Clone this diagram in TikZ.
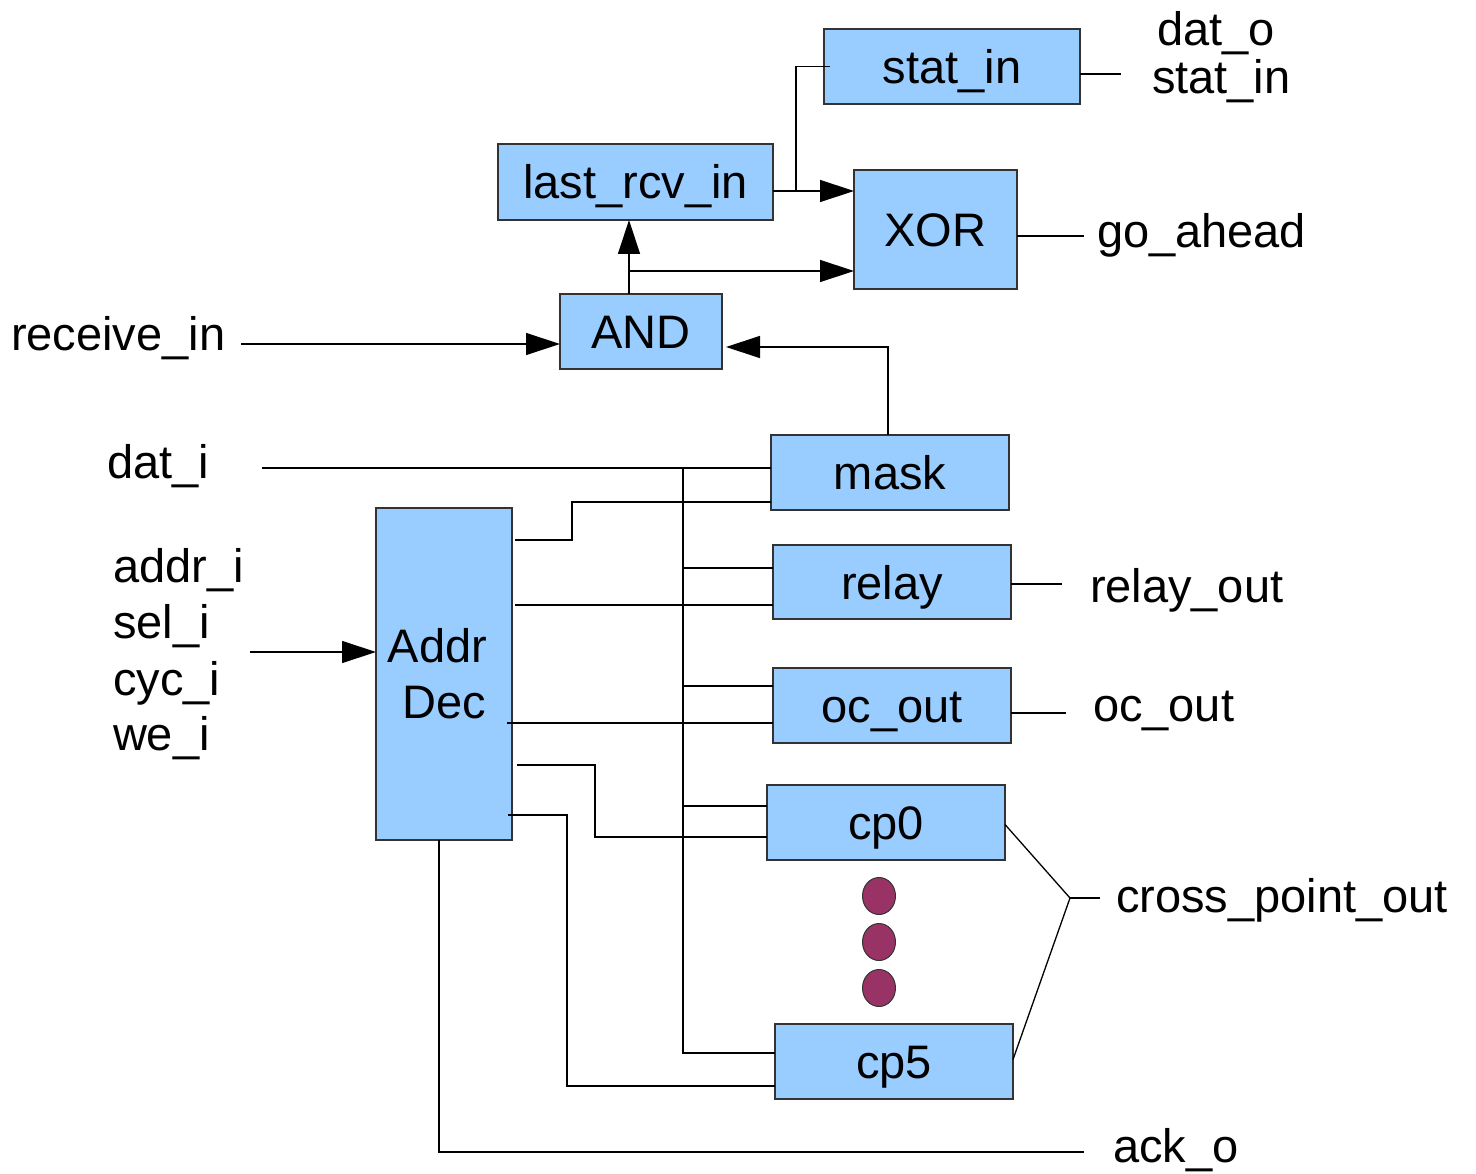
\documentclass[tikz,border=0pt]{standalone}
\usepackage{fontspec}
\setmainfont{Liberation Sans}
\usetikzlibrary{arrows.meta}
\definecolor{boxblue}{HTML}{99CCFF}
\definecolor{boxline}{HTML}{333333}
\definecolor{dotfill}{HTML}{993366}

\begin{document}
\begin{tikzpicture}[x=1pt,y=-1pt,
  every node/.style={font=\fontsize{47}{56}\selectfont, inner sep=0pt, outer sep=0pt},
  blk/.style={draw=boxline, line width=1.5pt, fill=boxblue, rectangle,
              text height=34pt, text depth=0pt},
  wire/.style={draw=black, line width=1.3pt},
  arr/.style={wire, -{Triangle[length=34pt,width=22pt]}},
  lbl/.style={anchor=base west},
  dotmark/.style={draw=black!80, line width=1pt, fill=dotfill}]

\useasboundingbox (0,0) rectangle (1476,1174);

% functional blocks
\node[blk, minimum width=256pt, minimum height=75pt] (stat)  at (952,66.5)   {stat\_in};
\node[blk, minimum width=275pt, minimum height=76pt] (last)  at (635.5,182)  {last\_rcv\_in};
\node[blk, minimum width=163pt, minimum height=119pt] (xor)  at (935.5,229.5) {XOR};
\node[blk, minimum width=162pt, minimum height=75pt] (and)   at (641,331.5)  {AND};
\node[blk, minimum width=238pt, minimum height=75pt] (mask)  at (890,472.5)  {mask};
\node[blk, minimum width=238pt, minimum height=74pt] (relay) at (892,582)    {relay};
\node[blk, minimum width=238pt, minimum height=75pt] (oc)    at (892,705.5)  {oc\_out};
\node[blk, minimum width=238pt, minimum height=75pt] (cp0)   at (886,822.5)  {cp0};
\node[blk, minimum width=238pt, minimum height=75pt] (cp5)   at (894,1061.5) {cp5};
\node[blk, minimum width=136pt, minimum height=332pt] (addr) at (444,674)    {};
\node[anchor=base east] (addrA) at (487,662) {Addr};
\node[anchor=base east] (addrD) at (486,718) {Dec};

% port labels
\node[lbl] (recv)  at (11,351)   {receive\_in};
\node[lbl] (dati)  at (107,478)  {dat\_i};
\node[lbl] (addri) at (113,582)  {addr\_i};
\node[lbl] (seli)  at (113,638)  {sel\_i};
\node[lbl] (cyci)  at (113,695)  {cyc\_i};
\node[lbl] (wei)   at (113,750)  {we\_i};
\node[lbl] (dato)  at (1157,46)  {dat\_o};
\node[lbl] (stato) at (1152,94)  {stat\_in};
\node[lbl] (goa)   at (1097,248) {go\_ahead};
\node[lbl] (relo)  at (1090,602) {relay\_out};
\node[lbl] (oco)   at (1093,721) {oc\_out};
\node[lbl] (cpo)   at (1116,912) {cross\_point\_out};
\node[lbl] (acko)  at (1113,1162) {ack\_o};

% free ends and junctions of the wires
\coordinate (statj)  at (796,191);
\coordinate (andup)  at (629,271);
\coordinate (recvs)  at (241,344);
\coordinate (datis)  at (262,468);
\coordinate (bus)    at (683,468);
\coordinate (adis)   at (250,652);
\coordinate (cpj)    at (1070,898);
\coordinate (cpe)    at (1100,898);
\coordinate (state)  at (1121,74);
\coordinate (goe)    at (1084,236);
\coordinate (rele)   at (1062,584);
\coordinate (oce)    at (1066,713);
\coordinate (acke)   at (1084,1152);

% status path and XOR inputs
\draw[wire] ([xshift=6pt]stat.west) -| (statj);
\draw[arr] (last.east |- statj) -- (xor.west |- statj);
\draw[arr] (and.north -| andup) -- (last.south -| andup);
\draw[arr] (andup) -- (xor.west |- andup);
\draw[wire] (xor.east |- goe) -- (goe);
\draw[wire] (stat.east |- state) -- (state);

% AND inputs
\draw[arr] (recvs) -- (and.west |- recvs);
\draw[arr] ([xshift=-2pt]mask.north) |- (726,347);

% data bus
\draw[wire] (datis) -- (mask.west |- datis);
\draw[wire] (bus) |- (cp5.west |- 0,1053);
\draw[wire] (bus |- 0,568) -- (relay.west |- 0,568);
\draw[wire] (bus |- 0,686) -- (oc.west |- 0,686);
\draw[wire] (bus |- 0,806) -- (cp0.west |- 0,806);

% address decoder
\draw[arr] (adis) -- (addr.west |- adis);
\draw[wire] (515,540) -- (572,540) -- (572,502) -- (mask.west |- 0,502);
\draw[wire] (515,605) -- (relay.west |- 0,605);
\draw[wire] (507,723) -- (oc.west |- 0,723);
\draw[wire] (517,765) -- (595,765) -- (595,837) -- (cp0.west |- 0,837);
\draw[wire] (508,815) -- (567,815) -- (567,1086) -- (cp5.west |- 0,1086);
\draw[wire] (addr.south -| 439,0) |- (acke);

% outputs
\draw[wire] (relay.east |- rele) -- (rele);
\draw[wire] (oc.east |- oce) -- (oce);
\draw[wire] ([yshift=-2pt]cp0.east) -- (cpj) -- ([yshift=2pt]cp5.east);
\draw[wire] (cpj) -- (cpe);

% ellipsis between the cross points
\draw[dotmark] (879,896) ellipse [x radius=16.5pt, y radius=18.5pt];
\draw[dotmark] (879,942) ellipse [x radius=16.5pt, y radius=18.5pt];
\draw[dotmark] (879,988) ellipse [x radius=16.5pt, y radius=18.5pt];
\end{tikzpicture}
\end{document}
